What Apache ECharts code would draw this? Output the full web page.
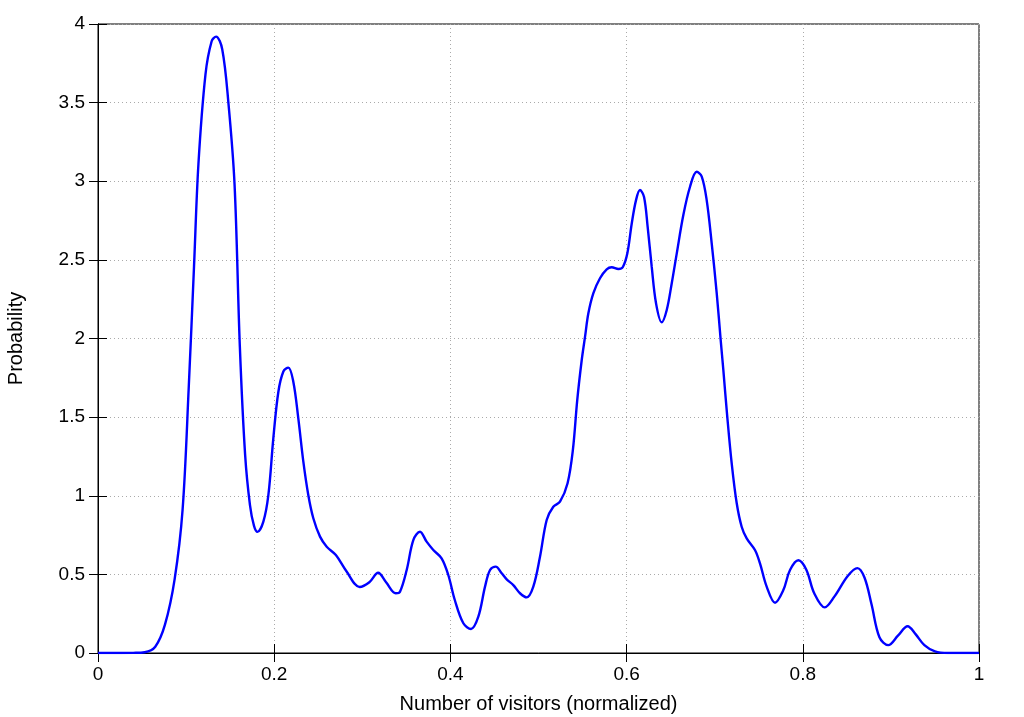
<!DOCTYPE html>
<html><head><meta charset="utf-8">
<script src="https://cdn.jsdelivr.net/npm/echarts@6/dist/echarts.min.js"></script>
<style>html,body{margin:0;padding:0;background:#fff}#c{width:1024px;height:717px}</style>
</head><body><div id="c"></div>
<script>
const xVals = [0,0.02,0.04,0.053,0.065,0.076,0.087,0.096,0.103,0.109,0.114,0.122,0.129,0.134,0.141,0.148,0.155,0.161,0.167,0.1725,0.177,0.181,0.1877,0.1934,0.199,0.2047,0.2104,0.216,0.2217,0.2274,0.233,0.2387,0.2444,0.252,0.2596,0.270,0.282,0.297,0.308,0.318,0.327,0.338,0.3428,0.3504,0.358,0.3655,0.373,0.3806,0.390,0.3976,0.405,0.4147,0.4234,0.4317,0.4393,0.445,0.4514,0.4582,0.4639,0.4714,0.479,0.4866,0.4941,0.5017,0.5093,0.5168,0.5244,0.533,0.539,0.544,0.549,0.5528,0.5566,0.5622,0.5698,0.5774,0.5831,0.5907,0.5956,0.6008,0.6058,0.6107,0.6152,0.6198,0.6239,0.6285,0.6334,0.6398,0.6455,0.6512,0.6569,0.6644,0.672,0.6796,0.6853,0.6909,0.6966,0.7023,0.7068,0.7098,0.7143,0.7193,0.725,0.7306,0.7363,0.7457,0.7514,0.759,0.7685,0.7779,0.7855,0.795,0.804,0.813,0.825,0.836,0.851,0.862,0.870,0.878,0.887,0.897,0.908,0.919,0.928,0.938,0.950,0.965,0.98,1.0];
const yVals = [0,0,0.001,0.005,0.04,0.18,0.47,0.91,1.69,2.46,3.11,3.68,3.89,3.92,3.84,3.50,2.98,1.95,1.26,0.94,0.81,0.77,0.835,1.005,1.365,1.66,1.79,1.815,1.725,1.49,1.22,1.005,0.857,0.74,0.676,0.623,0.52,0.42,0.45,0.51,0.45,0.38,0.39,0.528,0.719,0.771,0.708,0.655,0.602,0.496,0.337,0.189,0.153,0.231,0.422,0.528,0.549,0.507,0.468,0.432,0.38,0.354,0.422,0.612,0.846,0.93,0.962,1.08,1.29,1.61,1.86,2.01,2.16,2.287,2.383,2.44,2.453,2.442,2.453,2.54,2.73,2.88,2.944,2.90,2.71,2.457,2.224,2.103,2.18,2.35,2.54,2.785,2.965,3.06,3.03,2.88,2.605,2.287,1.99,1.80,1.50,1.206,0.952,0.803,0.729,0.655,0.570,0.422,0.32,0.40,0.528,0.59,0.53,0.38,0.29,0.36,0.49,0.54,0.48,0.31,0.10,0.05,0.11,0.17,0.12,0.05,0.01,0,0,0];
const xTicks = ['0','0.2','0.4','0.6','0.8','1'];
const yTicks = ['0','0.5','1','1.5','2','2.5','3','3.5','4'];
const xTitle = 'Number of visitors (normalized)';
const yTitle = 'Probability';

const pts = xVals.map((x,i)=>[x,yVals[i]]);
const font = 'Liberation Sans, Arial, sans-serif';
const chart = echarts.init(document.getElementById('c'));
const tick = {show:true, inside:true, length:9, lineStyle:{color:'#000',width:1}};
chart.setOption({
  animation:false,
  grid:{left:98,right:45,top:24,bottom:64,show:true,borderColor:'#000',borderWidth:1,containLabel:false,outerBoundsMode:'none'},
  xAxis:[{type:'value',min:0,max:1,interval:0.2,
    name:xTitle,nameLocation:'middle',nameGap:41,
    nameTextStyle:{fontFamily:font,fontSize:20,color:'#000'},
    axisLine:{show:true,lineStyle:{color:'#000'}},axisTick:tick,
    axisLabel:{fontFamily:font,fontSize:19,color:'#000',margin:12,formatter:(v)=>xTicks[Math.round(v/0.2)]},
    splitLine:{show:true,lineStyle:{color:'#aaa',type:[1,3],width:1}}},
   {type:'value',position:'top',min:0,max:1,interval:0.2,
    axisLine:{show:true,lineStyle:{color:'#000'}},axisTick:tick,axisLabel:{show:false},splitLine:{show:false}}],
  yAxis:[{type:'value',min:0,max:4,interval:0.5,
    name:yTitle,nameLocation:'middle',nameGap:72,
    nameTextStyle:{fontFamily:font,fontSize:20,color:'#000'},
    axisLine:{show:true,lineStyle:{color:'#000'}},axisTick:tick,
    axisLabel:{fontFamily:font,fontSize:19,color:'#000',margin:13,formatter:(v)=>yTicks[Math.round(v/0.5)]},
    splitLine:{show:true,lineStyle:{color:'#aaa',type:[1,3],width:1}}},
   {type:'value',position:'right',min:0,max:4,interval:0.5,
    axisLine:{show:true,lineStyle:{color:'#000'}},axisTick:tick,axisLabel:{show:false},splitLine:{show:false}}],
  series:[{type:'line',data:pts,showSymbol:false,smooth:0.35,
    lineStyle:{color:'#0000ff',width:2.4},clip:true}]
});
</script></body></html>
